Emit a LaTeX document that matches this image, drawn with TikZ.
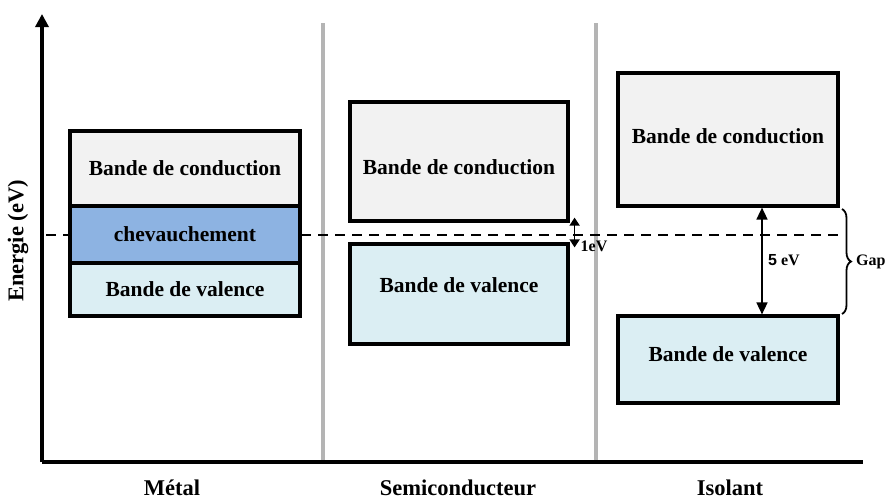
\documentclass[tikz,border=0pt]{standalone}
\usepackage{fontspec}
\setmainfont{Liberation Serif}
\setsansfont{Liberation Sans}
\usetikzlibrary{arrows.meta,decorations.pathreplacing}
\definecolor{condgray}{HTML}{F2F2F2}
\definecolor{overblue}{HTML}{8DB3E2}
\definecolor{valblue}{HTML}{DBEEF3}
\definecolor{sepgray}{HTML}{B4B4B4}
\begin{document}
\begin{tikzpicture}[x=1pt,y=-1pt,font=\bfseries\fontsize{21.5}{24}\selectfont]
\tikzstyle{axis}=[draw,line width=3.2pt]
\tikzstyle{sep}=[draw,sepgray,line width=3.2pt]
\tikzstyle{band}=[draw,line width=3.2pt,inner sep=0pt]
\tikzstyle{gaparrow}=[draw,line width=1.6pt,{Triangle[length=12pt,width=11pt]}-{Triangle[length=12pt,width=11pt]}]
\tikzstyle{small}=[font=\bfseries\fontsize{16}{18}\selectfont]
\tikzstyle{title}=[font=\bfseries\fontsize{22.5}{25}\selectfont]
\useasboundingbox(0,0)rectangle(895,499);
% axes
\coordinate(o)at(42,462);
\coordinate(ytop)at(42,14);
\coordinate(xend)at(863,462);
\path[sep](323,23)--(323,462);
\path[sep](596,23)--(596,462);
\path[axis,-{Triangle[length=13pt,width=13pt]}](o)--(ytop);
\path[axis](o)--(xend);
\node[title,rotate=90]at(18,241){Energie (eV)};
% fermi level
\path[draw,line width=2.2pt,dash pattern=on 10pt off 7pt](46,235)--(840,235);
% metal
\node[band,fill=condgray,minimum width=230pt,minimum height=75pt](mc)at(185,168.5){Bande de conduction};
\node[band,fill=overblue,minimum width=230pt,minimum height=57pt](mo)at(185,234.5){chevauchement};
\node[band,fill=valblue,minimum width=230pt,minimum height=53pt](mv)at(185,289.5){Bande de valence};
% semiconducteur
\node[band,fill=condgray,minimum width=218pt,minimum height=119pt,text height=27pt](sc)at(459,161.5){Bande de conduction};
\node[band,fill=valblue,minimum width=218pt,minimum height=100pt,text depth=17pt](sv)at(459,294){Bande de valence};
% isolant
\node[band,fill=condgray,minimum width=220pt,minimum height=133pt,text depth=7pt](ic)at(728,139.5){Bande de conduction};
\node[band,fill=valblue,minimum width=220pt,minimum height=87pt,text depth=11pt](iv)at(728,359.5){Bande de valence};
% gaps
\path[draw,line width=1.6pt,{Triangle[length=8pt,width=10pt]}-{Triangle[length=8pt,width=10pt]}]([xshift=5pt,yshift=5pt]sc.south east)--([xshift=5pt,yshift=-5pt]sv.north east);
\node[small]at(594,246){1eV};
\path[gaparrow]([xshift=34pt]ic.south)--([xshift=34pt]iv.north);
\node[small]at(784,260){{\sffamily 5} eV};
\draw[line width=1.8pt,decorate,decoration={brace,amplitude=9pt}](842,209)--(842,314)node[small,midway,right=10pt]{Gap};
% labels
\node[title]at(172,488){Métal};
\node[title]at(458,488){Semiconducteur};
\node[title]at(730,488){Isolant};
\end{tikzpicture}
\end{document}
